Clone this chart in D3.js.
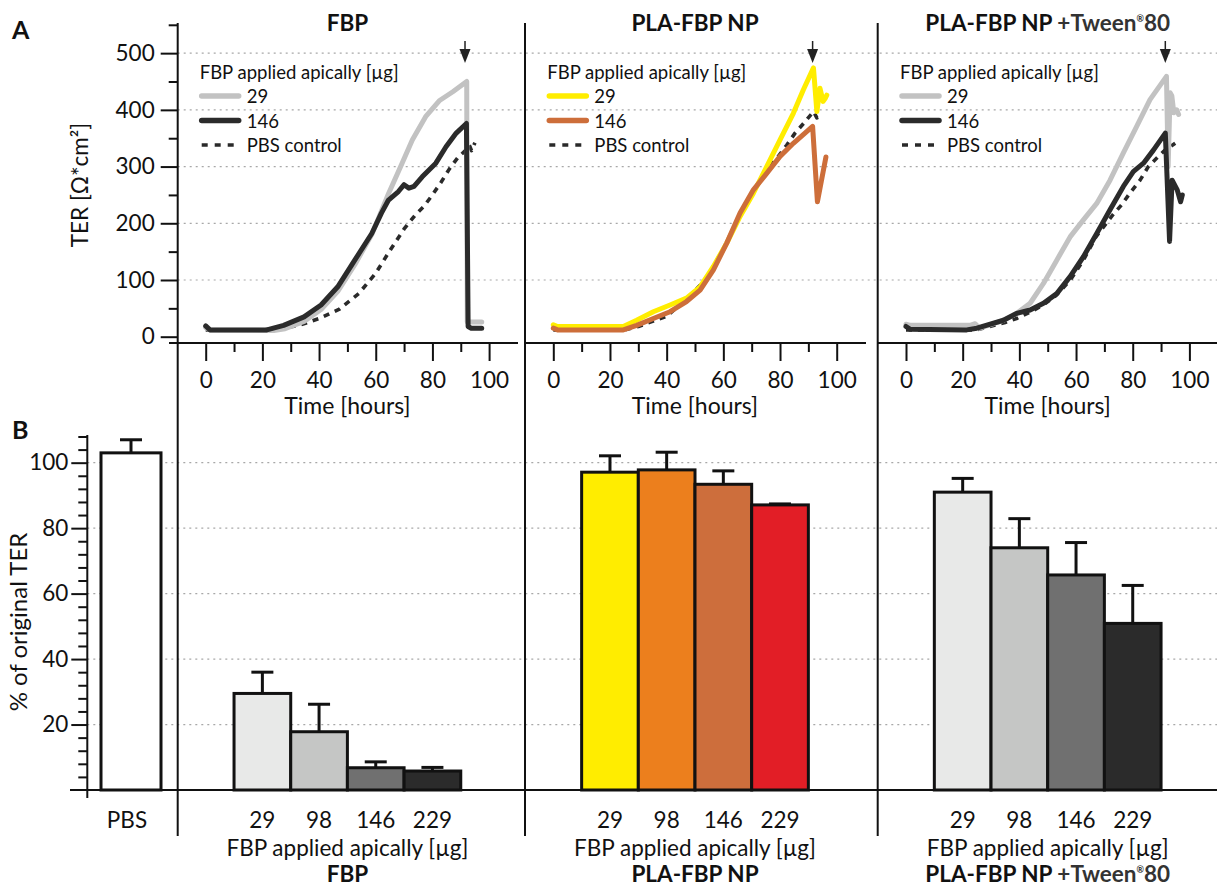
<!DOCTYPE html>
<html>
<head>
<meta charset="utf-8">
<script src="https://cdn.jsdelivr.net/npm/d3@7"></script>
<style>
  body { margin: 0; background: #fff; }
  svg { font-family: Lato, "Open Sans", sans-serif; fill: #111; }
  .axis path.domain { display: none; }
  .axis line { stroke: #111; stroke-width: 2; }
  .axis text { font-size: 22.5px; fill: #111; font-family: Lato, sans-serif; }
  .grid { stroke: #a8a8a8; stroke-width: 1.2; stroke-dasharray: 2,4; }
  .frame { stroke: #111; stroke-width: 2; }
</style>
</head>
<body>
<div id="chart"></div>
<script>
// ---- TER time courses, [hours, Ohm*cm2] ----
const fbp29 = [[0,16],[1.5,12],[24,11],[28,14],[34.7,27],[40.7,48],[46.6,80],[52.6,127],[58.6,180],[64.5,252],[69.3,306],[72.9,347],[77.6,388],[82.4,416],[87.2,432],[92.1,450],[92.3,26],[97.4,26]];
const fbp146 = [[0,19],[1.5,12],[21.6,12],[27.5,20],[34.7,35],[40.7,56],[46.6,88],[52.6,135],[58.6,182],[62,218],[64.5,241],[68,256],[70,268],[71.7,262],[73.5,265],[76.4,282],[78.8,294],[81.2,306],[84.8,335],[88.4,359],[92,376],[92.6,18],[93.7,15],[97.4,15]];
const fbpPbs = [[0,12],[20,12],[28,16],[33,20],[40,32],[47,48],[54,76],[60,112],[65,152],[70,190],[74,215],[77,230],[80,250],[83,272],[86,296],[89,316],[92,330],[93,338],[93.8,328],[95,342]];

const np29 = [[0,21],[1.5,18],[24.7,18],[29.4,29],[35.3,44],[41.2,56],[47,68],[51.8,88],[56.5,124],[61.2,165],[65.9,212],[70.6,253],[75.3,300],[80,347],[84.7,394],[88.2,435],[91.8,474],[93,397],[94.1,438],[95.2,415],[95.9,420],[96.5,426]];
const np146 = [[0,15],[1.5,12],[24.7,12],[29.4,20],[35.3,32],[41.2,44],[47,62],[51.8,82],[56.5,118],[61.2,165],[65.9,218],[70.6,259],[75.3,288],[80,318],[84.7,341],[91.5,371],[93.2,238],[96.2,317]];
const npPbs = [[0,12],[25,12],[30,18],[40,36],[47,66],[54,102],[60,155],[65,205],[70,252],[75,290],[80,322],[82.4,338],[85.3,359],[88.3,376],[91.8,397],[93,386],[95.4,391]];

const tw29 = [[0,22],[1.5,20],[22.6,20],[24.4,23],[26,15],[34.4,29],[39,41],[43.8,59],[48.5,94],[53.2,135],[57.9,176],[62.6,206],[67.3,235],[72,276],[76.7,324],[81.4,371],[86.1,418],[91.9,459],[92.5,300],[93.2,430],[93.8,425],[94.5,395],[95.5,400],[96.2,392]];
const tw146 = [[0,18],[1.5,13],[21.4,12],[25,15],[34.4,29],[39,41],[43.8,47],[48.5,59],[53.2,76],[57.9,106],[62.6,141],[67.3,182],[72,224],[76.7,265],[80.2,291],[83.8,306],[87.3,329],[91.5,359],[93,168],[93.9,276],[95.7,259],[96.9,238],[97.5,250]];
const twPbs = [[0,12],[25,12],[35,25],[39,32],[44,44],[48.5,56],[53,73],[58,100],[62.6,135],[67,176],[73,215],[76,232],[79,253],[82.6,276],[85.5,300],[88.5,315],[91.4,329],[95,341]];

const arrowHour = 91.5;

// ---- % of original TER (mean, top of error bar) ----
const doses = ["29", "98", "146", "229"];
const fbpMeans = [29.5, 17.8, 6.8, 5.8];
const fbpErrTop = [36, 26.2, 8.6, 6.9];
const npMeans = [97.1, 97.8, 93.4, 87.1];
const npErrTop = [102.1, 103.2, 97.5, 87.4];
const twMeans = [91, 74, 65.7, 50.9];
const twErrTop = [95.2, 82.9, 75.6, 62.5];
const pbsMean = [103];
const pbsErrTop = [107];

// ---- axis ticks ----
const terTicks = [0, 100, 200, 300, 400, 500];
const terMinor = [50, 150, 250, 350, 450, 550];
const hourTicks = [0, 20, 40, 60, 80, 100];
const hourMinor = [10, 30, 50, 70, 90];
const pctTicks = [20, 40, 60, 80, 100];
const pctMinor = [4, 8, 12, 16, 24, 28, 32, 36, 44, 48, 52, 56, 64, 68, 72, 76, 84, 88, 92, 96, 104, 108];

const legendTitle = "FBP applied apically [µg]";
const legendLabels = ["29", "146", "PBS control"];

// ---- layout ----
const width = 1217, height = 888;
const panels = [
    {x0: 205.7, lineStart: 169, lineEnd: 518, title: ["FBP"], series: [fbpPbs, fbp29, fbp146],
     colors: ["#2a2a2a", "#c2c2c2", "#2b2b2b"], bars: fbpMeans, err: fbpErrTop,
     barColors: ["#e8e9e8", "#c5c6c5", "#707070", "#2b2b2b"]},
    {x0: 553.3, lineStart: 525, lineEnd: 866, title: ["PLA-FBP NP"], series: [npPbs, np29, np146],
     colors: ["#2a2a2a", "#ffed00", "#cd6e3a"], bars: npMeans, err: npErrTop,
     barColors: ["#ffed00", "#ec7f1d", "#cd6e3c", "#e21e26"]},
    {x0: 906, lineStart: 877, lineEnd: 1217, title: ["PLA-FBP NP ", "+Tween", "®", "80"], series: [twPbs, tw29, tw146],
     colors: ["#2a2a2a", "#c2c2c2", "#2b2b2b"], bars: twMeans, err: twErrTop,
     barColors: ["#e8e9e8", "#c5c6c5", "#707070", "#2b2b2b"]}
];
const separators = [177.7, 525, 877.7];

let svg = d3.select("#chart").append("svg")
    .attr("width", width)
    .attr("height", height);

svg.append("rect").attr("width", width).attr("height", height).attr("fill", "#fff");

let yTop = d3.scaleLinear().domain([0, 550]).range([336.7, 24.8]);
let yBot = d3.scaleLinear().domain([0, 108]).range([790, 436.5]);

//Gridlines
svg.append("g").selectAll("line").data(terTicks.slice(1)).enter().append("line")
    .attr("class", "grid")
    .attr("x1", separators[0]).attr("x2", width)
    .attr("y1", d => yTop(d)).attr("y2", d => yTop(d));
svg.append("g").selectAll("line").data(pctTicks).enter().append("line")
    .attr("class", "grid")
    .attr("x1", 87.3).attr("x2", width)
    .attr("y1", d => yBot(d)).attr("y2", d => yBot(d));

//Panel labels
svg.append("text").attr("x", 12).attr("y", 39).text("A")
    .style("font-size", "25px").style("font-weight", "bold");
svg.append("text").attr("x", 12).attr("y", 439).text("B")
    .style("font-size", "25px").style("font-weight", "bold");

//Y axis A
svg.append("g").attr("class", "axis")
    .attr("transform", "translate(" + separators[0] + ",0)")
    .call(d3.axisLeft(yTop).tickValues(terTicks).tickSize(17).tickPadding(6));
svg.append("g").attr("class", "axis")
    .attr("transform", "translate(" + separators[0] + ",0)")
    .call(d3.axisLeft(yTop).tickValues(terMinor).tickSize(9).tickFormat(""));
svg.append("text")
    .text("TER [Ω*cm²]")
    .style("text-anchor", "middle").style("font-size", "22.5px")
    .attr("transform", "translate(88,185) rotate(-90)");

//Y axis B
svg.append("g").attr("class", "axis")
    .attr("transform", "translate(87.3,0)")
    .call(d3.axisLeft(yBot).tickValues(pctTicks).tickSize(16).tickPadding(3));
svg.append("g").attr("class", "axis")
    .attr("transform", "translate(87.3,0)")
    .call(d3.axisLeft(yBot).tickValues(pctMinor).tickSize(9).tickFormat(""));
svg.append("line").attr("class", "frame")
    .attr("x1", 87.3).attr("x2", 87.3).attr("y1", 435).attr("y2", 798);
svg.append("text")
    .text("% of original TER")
    .style("text-anchor", "middle").style("font-size", "24px")
    .attr("transform", "translate(27,622) rotate(-90)");

//PBS bar
let pbsBand = d3.scaleBand().domain(["PBS"]).range([95, 167]).paddingInner(0).paddingOuter(0.1);
svg.append("g").selectAll("line").data(pbsErrTop).enter().append("line")
    .attr("stroke", "#111").attr("stroke-width", 3)
    .attr("x1", pbsBand("PBS") + pbsBand.bandwidth() / 2).attr("x2", pbsBand("PBS") + pbsBand.bandwidth() / 2)
    .attr("y1", yBot(pbsMean[0])).attr("y2", d => yBot(d));
svg.append("g").selectAll("line").data(pbsErrTop).enter().append("line")
    .attr("stroke", "#111").attr("stroke-width", 3)
    .attr("x1", pbsBand("PBS") + pbsBand.bandwidth() / 2 - 11).attr("x2", pbsBand("PBS") + pbsBand.bandwidth() / 2 + 11)
    .attr("y1", d => yBot(d)).attr("y2", d => yBot(d));
svg.append("g").selectAll("rect").data(pbsMean).enter().append("rect")
    .attr("x", pbsBand("PBS")).attr("width", pbsBand.bandwidth())
    .attr("y", d => yBot(d)).attr("height", d => yBot(0) - yBot(d))
    .attr("fill", "#fff").attr("stroke", "#111").attr("stroke-width", 3);
svg.append("text").text("PBS")
    .attr("x", pbsBand("PBS") + pbsBand.bandwidth() / 2 - 4).attr("y", 828)
    .style("text-anchor", "middle").style("font-size", "22.5px");

let line = d3.line().x(d => d[0]).y(d => d[1]);

panels.forEach((p, i) => {
    let x = d3.scaleLinear().domain([0, 100]).range([p.x0, p.x0 + 283.4]);
    let g = svg.append("g");

    //Title
    let title = g.append("text")
        .attr("x", x(50)).attr("y", 31)
        .style("text-anchor", "middle").style("font-size", "22.5px").style("font-weight", "bold");
    addTitle(title, p.title);

    //X axis A
    g.append("line").attr("class", "frame")
        .attr("x1", p.lineStart).attr("x2", p.lineEnd).attr("y1", 343).attr("y2", 343);
    g.append("g").attr("class", "axis")
        .attr("transform", "translate(0,343)")
        .call(d3.axisBottom(x).tickValues(hourTicks).tickSize(18).tickPadding(11));
    g.append("g").attr("class", "axis")
        .attr("transform", "translate(0,343)")
        .call(d3.axisBottom(x).tickValues(hourMinor).tickSize(9).tickFormat(""));
    g.append("text").text("Time [hours]")
        .attr("x", x(50)).attr("y", 414)
        .style("text-anchor", "middle").style("font-size", "23px");

    //Lines
    p.series.forEach((s, k) => {
        g.append("path")
            .datum(s)
            .attr("fill", "none")
            .attr("stroke", p.colors[k])
            .attr("stroke-width", k === 0 ? 3.6 : 5)
            .attr("stroke-dasharray", k === 0 ? "6,6" : null)
            .attr("stroke-linejoin", "round")
            .attr("stroke-linecap", k === 0 ? "butt" : "round")
            .attr("d", line.x(d => x(d[0])).y(d => yTop(d[1])));
    });

    //Arrow
    let ax = x(arrowHour);
    g.append("line").attr("x1", ax).attr("x2", ax).attr("y1", 41).attr("y2", 52)
        .attr("stroke", "#222").attr("stroke-width", 1.5);
    g.append("path")
        .attr("d", "M" + (ax - 5.5) + ",49L" + (ax + 5.5) + ",49L" + ax + ",63Z")
        .attr("fill", "#222");

    //Legend
    let legend = g.append("g").attr("transform", "translate(" + (p.x0 - 6) + ",0)")
        .style("font-size", "18.5px");
    legend.append("text").attr("x", 0).attr("y", 79).text(legendTitle);
    let legendOrder = [1, 2, 0];
    legendOrder.forEach((k, j) => {
        let ly = 96 + j * 24.5;
        legend.append("line")
            .attr("x1", 2).attr("x2", 39)
            .attr("y1", ly).attr("y2", ly)
            .attr("stroke", p.colors[k])
            .attr("stroke-width", k === 0 ? 3.5 : 5.5)
            .attr("stroke-dasharray", k === 0 ? "6,7" : null)
            .attr("stroke-linecap", k === 0 ? "butt" : "round");
        legend.append("text").attr("x", 47).attr("y", ly + 7).text(legendLabels[j]);
    });

    //Bars
    let band = d3.scaleBand().domain(doses).range([x(10), x(90)]).padding(0);
    let bars = g.append("g");
    bars.selectAll(".err").data(p.err).enter().append("line")
        .attr("stroke", "#111").attr("stroke-width", 3)
        .attr("x1", (d, j) => band(doses[j]) + band.bandwidth() / 2)
        .attr("x2", (d, j) => band(doses[j]) + band.bandwidth() / 2)
        .attr("y1", (d, j) => yBot(p.bars[j]))
        .attr("y2", d => yBot(d));
    bars.selectAll(".cap").data(p.err).enter().append("line")
        .attr("stroke", "#111").attr("stroke-width", 3)
        .attr("x1", (d, j) => band(doses[j]) + band.bandwidth() / 2 - 11)
        .attr("x2", (d, j) => band(doses[j]) + band.bandwidth() / 2 + 11)
        .attr("y1", d => yBot(d))
        .attr("y2", d => yBot(d));
    bars.selectAll("rect").data(p.bars).enter().append("rect")
        .attr("x", (d, j) => band(doses[j]))
        .attr("width", band.bandwidth())
        .attr("y", d => yBot(d))
        .attr("height", d => yBot(0) - yBot(d))
        .attr("fill", (d, j) => p.barColors[j])
        .attr("stroke", "#111").attr("stroke-width", 3);

    bars.selectAll(".dose").data(doses).enter().append("text")
        .attr("x", d => band(d) + band.bandwidth() / 2)
        .attr("y", 828)
        .style("text-anchor", "middle").style("font-size", "22.5px")
        .text(d => d);
    g.append("text").text(legendTitle)
        .attr("x", x(50)).attr("y", 856)
        .style("text-anchor", "middle").style("font-size", "22.5px");
    let sub = g.append("text")
        .attr("x", x(50)).attr("y", 882)
        .style("text-anchor", "middle").style("font-size", "22.5px").style("font-weight", "bold");
    addTitle(sub, p.title);
});

//Bottom x axis
svg.append("line").attr("class", "frame")
    .attr("x1", 70).attr("x2", width).attr("y1", 790).attr("y2", 790);

//Separators
separators.forEach(s => {
    svg.append("line").attr("class", "frame")
        .attr("x1", s).attr("x2", s).attr("y1", 23).attr("y2", 836);
});

function addTitle(sel, parts) {
    if (parts.length === 1) {
        sel.text(parts[0]);
        return;
    }
    sel.append("tspan").text(parts[0]);
    sel.append("tspan").text(parts[1]).attr("fill", "#333");
    sel.append("tspan").text(parts[2]).attr("fill", "#333")
        .style("font-size", "9px").attr("dy", -9);
    sel.append("tspan").text(parts[3]).attr("fill", "#333").attr("dy", 9);
}
</script>
</body>
</html>
